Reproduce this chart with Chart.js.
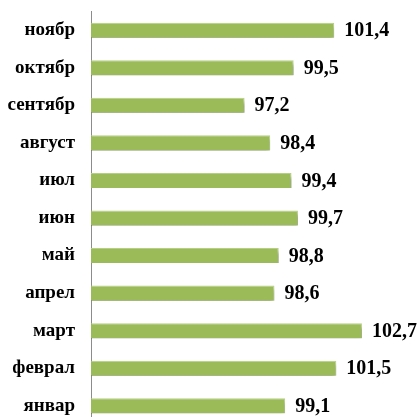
<!DOCTYPE html>
<html>
<head>
<meta charset="utf-8">
<script src="https://cdn.jsdelivr.net/npm/chart.js@4.4.0/dist/chart.umd.min.js"></script>
<style>
html,body{margin:0;padding:0;background:#fff;overflow:hidden;}
#wrap{width:419px;height:417px;overflow:hidden;}
</style>
</head>
<body>
<div id="wrap"><canvas id="c" width="419" height="436"></canvas></div>
<script>
const categories = ["ноябр","октябр","сентябр","август","июл","июн","май","апрел","март","феврал","январ"];
const values = [101.4, 99.5, 97.2, 98.4, 99.4, 99.7, 98.8, 98.6, 102.7, 101.5, 99.1];
const valueLabels = ["101,4","99,5","97,2","98,4","99,4","99,7","98,8","98,6","102,7","101,5","99,1"];

const shadowPlugin = {
  id: 'shadow',
  beforeDatasetsDraw(chart) {
    const ctx = chart.ctx;
    ctx.save();
    ctx.shadowColor = 'rgba(0,0,0,0.4)';
    ctx.shadowBlur = 3;
    ctx.shadowOffsetX = 0;
    ctx.shadowOffsetY = 4;
  },
  afterDatasetsDraw(chart) {
    chart.ctx.restore();
  }
};

const labelPlugin = {
  id: 'valLabels',
  afterDatasetsDraw(chart) {
    const ctx = chart.ctx;
    const meta = chart.getDatasetMeta(0);
    ctx.save();
    ctx.font = 'bold 20px "Liberation Serif", "Times New Roman", serif';
    ctx.fillStyle = '#000';
    ctx.textAlign = 'left';
    ctx.textBaseline = 'middle';
    meta.data.forEach((bar, i) => {
      ctx.fillText(valueLabels[i], bar.x + 10, bar.y + 1);
    });
    ctx.restore();
  }
};

new Chart(document.getElementById('c'), {
  type: 'bar',
  data: {
    labels: categories,
    datasets: [{
      data: values,
      backgroundColor: '#9BBB59',
      borderColor: '#B5CF85',
      borderWidth: {top: 1, bottom: 0, left: 0, right: 1},
      borderSkipped: false,
      barPercentage: 0.8,
      categoryPercentage: 0.5
    }]
  },
  options: {
    indexAxis: 'y',
    responsive: false,
    animation: false,
    events: [],
    layout: { padding: { top: 0, bottom: 0, left: 0, right: 8 } },
    plugins: { legend: { display: false }, tooltip: { enabled: false } },
    scales: {
      x: {
        display: false,
        min: 90,
        max: 105
      },
      y: {
        grid: { display: true, drawOnChartArea: false, drawTicks: true, tickLength: 16, tickColor: 'rgba(0,0,0,0)' },
        border: { display: true, color: '#8c8c8c', width: 1 },
        ticks: {
          color: '#000',
          padding: 0,
          font: { family: '"Liberation Serif", "Times New Roman", serif', weight: 'bold', size: 19 }
        },
        afterFit(scale) { scale.width = 91; }
      }
    }
  },
  plugins: [shadowPlugin, labelPlugin]
});
</script>
</body>
</html>
